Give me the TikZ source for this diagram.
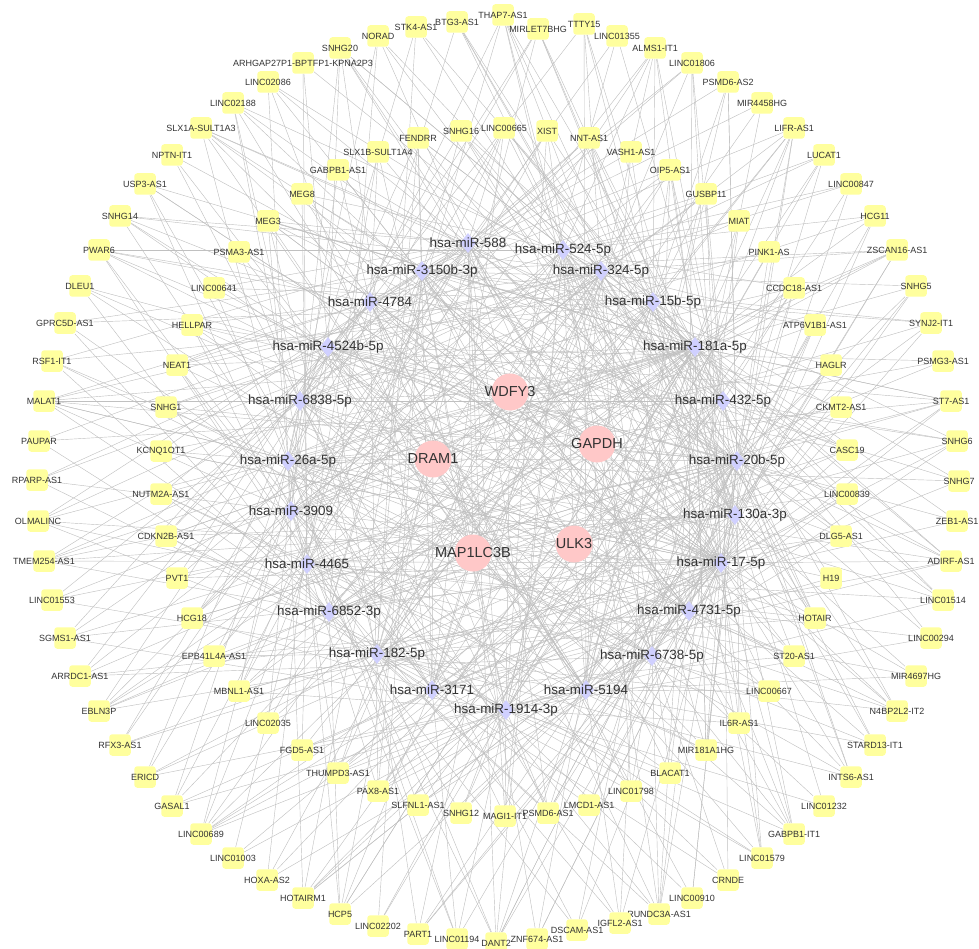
\documentclass[tikz,border=0pt]{standalone}
\usepackage{fontspec}
\setmainfont{Liberation Sans}
\usetikzlibrary{shapes.geometric,backgrounds}
\definecolor{lncfill}{RGB}{255,255,158}
\definecolor{mirfill}{RGB}{208,208,255}
\definecolor{mrnafill}{RGB}{255,200,200}
\definecolor{edgegray}{RGB}{192,192,192}
\definecolor{txtgray}{RGB}{51,51,51}

\begin{document}
\begin{tikzpicture}[x=1pt, y=-1pt,
  lnc/.style={fill=lncfill, rounded corners=3pt, minimum size=21.5pt, inner sep=0pt},
  lnctxt/.style={text=txtgray, font=\fontsize{9}{10}\selectfont, inner sep=0pt},
  mir/.style={diamond, fill=mirfill, minimum width=16pt, minimum height=20pt, inner sep=0pt},
  mirtxt/.style={text=txtgray, font=\fontsize{13.4}{15}\selectfont, inner sep=0pt},
  mrna/.style={circle, fill=mrnafill, minimum size=37pt, inner sep=0pt},
  mrnatxt/.style={text=txtgray, font=\fontsize{14.5}{16}\selectfont, inner sep=0pt},
  edge/.style={draw=edgegray, line width=0.42pt},]
        \useasboundingbox (0,0) rectangle (979,949);
        \foreach [count=\i] \x/\y/\t in {503/15/THAP7-AS1, 538/29/MIRLET7BHG, 584/24/TTTY15, 617/36/LINC01355,
            655/48/ALMS1-IT1, 692/63/LINC01806, 728/82/PSMD6-AS2, 762/103/MIR4458HG, 794/128/LIFR-AS1,
            824/155/LUCAT1, 851/184/LINC00847, 875/216/HCG11, 897/250/ZSCAN16-AS1, 916/286/SNHG5,
            931/323/SYNJ2-IT1, 943/361/PSMG3-AS1, 951/401/ST7-AS1, 957/441/SNHG6, 959/481/SNHG7,
            957/521/ZEB1-AS1, 951/561/ADIRF-AS1, 943/600/LINC01514, 931/638/LINC00294, 916/676/MIR4697HG,
            897/711/N4BP2L2-IT2, 875/745/STARD13-IT1, 851/777/INTS6-AS1, 824/806/LINC01232,
            794/834/GABPB1-IT1, 762/858/LINC01579, 728/880/CRNDE, 692/898/LINC00910, 659/914/RUNDC3A-AS1,
            620/923/IGFL2-AS1, 577/930/DSCAM-AS1, 537/939/ZNF674-AS1, 496/943/DANT2, 457/939/LINC01194,
            418/934/PART1, 378/926/LINC02202, 340/914/HCP5, 303/898/HOTAIRM1, 267/880/HOXA-AS2,
            233/858/LINC01003, 201/834/LINC00689, 172/806/GASAL1, 145/777/ERICD, 120/745/RFX3-AS1,
            99/711/EBLN3P, 80/676/ARRDC1-AS1, 65/638/SGMS1-AS1, 52/600/LINC01553, 44/561/TMEM254-AS1,
            38/521/OLMALINC, 37/480/RPARP-AS1, 39/441/PAUPAR, 44/401/MALAT1, 52/361/RSF1-IT1,
            65/323/GPRC5D-AS1, 80/286/DLEU1, 99/250/PWAR6, 120/216/SNHG14, 145/184/USP3-AS1,
            172/155/NPTN-IT1, 201/128/SLX1A-SULT1A3, 233/103/LINC02188, 268/82/LINC02086,
            303/63/ARHGAP27P1-BPTFP1-KPNA2P3, 340/48/SNHG20, 378/36/NORAD, 416/27/STK4-AS1, 457/22/BTG3-AS1,
            504/128/LINC00665, 547/131/XIST, 589/138/NNT-AS1, 631/152/VASH1-AS1, 670/170/OIP5-AS1,
            706/194/GUSBP11, 739/221/MIAT, 769/252/PINK1-AS, 794/288/CCDC18-AS1, 815/325/ATP6V1B1-AS1,
            831/365/HAGLR, 841/407/CKMT2-AS1, 847/450/CASC19, 847/494/LINC00839, 841/536/DLG5-AS1,
            831/578/H19, 815/618/HOTAIR, 794/656/ST20-AS1, 769/691/LINC00667, 739/723/IL6R-AS1,
            706/750/MIR181A1HG, 670/773/BLACAT1, 631/791/LINC01798, 589/805/LMCD1-AS1, 548/813/PSMD6-AS1,
            505/816/MAGI1-IT1, 461/813/SNHG12, 418/805/SLFNL1-AS1, 378/791/PAX8-AS1, 338/773/THUMPD3-AS1,
            302/750/FGD5-AS1, 268/723/LINC02035, 239/691/MBNL1-AS1, 214/656/EPB41L4A-AS1, 192/618/HCG18,
            177/578/PVT1, 166/536/CDKN2B-AS1, 161/494/NUTM2A-AS1, 161/451/KCNQ1OT1, 166/407/SNHG1,
            177/365/NEAT1, 192/325/HELLPAR, 214/288/LINC00641, 239/252/PSMA3-AS1, 268/221/MEG3,
            302/194/MEG8, 338/170/GABPB1-AS1, 378/152/SLX1B-SULT1A4, 418/138/FENDRR, 461/131/SNHG16}
          \node[lnc, label={[lnctxt]center:\t}] (l\i) at (\x,\y) {};
        \foreach [count=\i] \x/\y/\t in {468/243/hsa-miR-588, 563/250/hsa-miR-524-5p, 601/271/hsa-miR-324-5p,
            653/302/hsa-miR-15b-5p, 695/347/hsa-miR-181a-5p, 723/401/hsa-miR-432-5p, 737/461/hsa-miR-20b-5p,
            735/515/hsa-miR-130a-3p, 721/563/hsa-miR-17-5p, 689/611/hsa-miR-4731-5p, 652/656/hsa-miR-6738-5p,
            586/690/hsa-miR-5194, 506/710/hsa-miR-1914-3p, 432/690/hsa-miR-3171, 377/654/hsa-miR-182-5p,
            329/612/hsa-miR-6852-3p, 307/564/hsa-miR-4465, 291/511/hsa-miR-3909, 288/461/hsa-miR-26a-5p,
            300/401/hsa-miR-6838-5p, 328/347/hsa-miR-4524b-5p, 370/302/hsa-miR-4784, 422/271/hsa-miR-3150b-3p}
          \node[mir, label={[mirtxt]center:\t}] (m\i) at (\x,\y) {};
        \foreach [count=\i] \x/\y/\t in {510/392/WDFY3, 597/444/GAPDH, 574/544/ULK3, 473/553/MAP1LC3B, 433/459/DRAM1}
          \node[mrna, label={[mrnatxt]center:\t}] (g\i) at (\x,\y) {};
        \begin{pgfonlayer}{background}
          \fill[white] (0,0) rectangle (979,949);
          \foreach \i in {1,...,122}{
            \pgfmathtruncatemacro{\deg}{3+mod(\i*7,4)}
            \pgfmathtruncatemacro{\mult}{1+mod(\i,3)}
            \foreach [count=\k] \off in {0,4,9,13,17,20}{
              \ifnum\k>\deg\relax\else
                \pgfmathtruncatemacro{\j}{mod(\i*7+\off*\mult,23)+1}
                \draw[edge] (l\i) -- (m\j);
              \fi}
            \pgfmathtruncatemacro{\ra}{mod(\i,3)}
            \pgfmathtruncatemacro{\rb}{mod(\i,4)}
            \pgfmathtruncatemacro{\rc}{mod(\i,5)}
            \ifnum\ra=0 \draw[edge] (l\i) -- (m9);\fi
            \ifnum\rb=1 \draw[edge] (l\i) -- (m5);\fi
            \ifnum\rc=2 \draw[edge] (l\i) -- (m7);\fi
          }
          \foreach \j in {1,...,23}{
            \foreach \g in {1,...,5}{
              \pgfmathtruncatemacro{\r}{mod(\j*3+\g*2,5)}
              \ifnum\r<3 \draw[edge] (m\j) -- (g\g);\fi}}
        \end{pgfonlayer}
      \end{tikzpicture}
\end{document}
